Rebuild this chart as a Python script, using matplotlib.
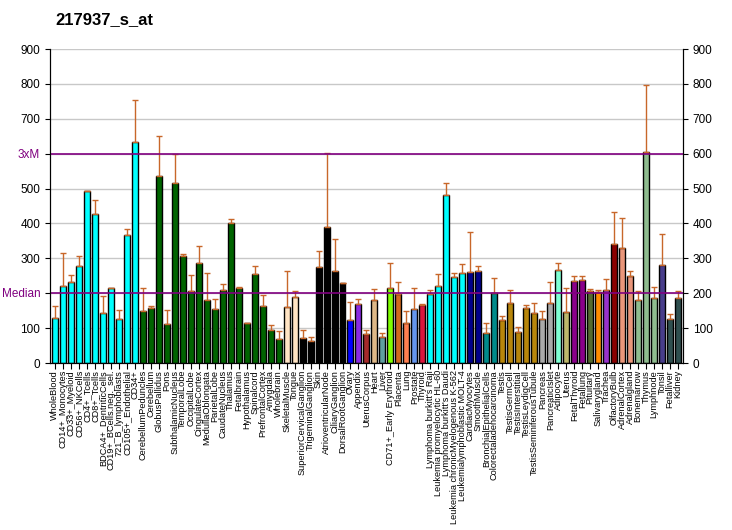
from matplotlib import pyplot as plt
import numpy as np

plt.rcParams["font.family"] = ["Liberation Sans", "DejaVu Sans"]

labels = [
    "WholeBlood", "CD14+_Monocytes", "CD33+_Myeloid", "CD56+_NKCells", "CD4+_Tcells",
    "CD8+_Tcells", "BDCA4+_DentriticCells", "CD19+_BCells.neg._sel.", "721_B_lymphoblasts",
    "CD105+_Endothelial", "CD34+", "CerebellumPeduncles", "Cerebellum", "GlobusPallidus",
    "Pons", "SubthalamicNucleus", "TemporalLobe", "OccipitalLobe", "CingulateCortex",
    "MedullaOblongata", "ParietalLobe", "CaudateNucleus", "Thalamus", "Fetalbrain",
    "Hypothalamus", "Spinalcord", "PrefrontalCortex", "Amygdala", "Wholebrain",
    "SkeletalMuscle", "Tongue", "SuperiorCervicalGanglion", "TrigeminalGanglion", "Skin",
    "AtrioventricularNode", "CiliaryGanglion", "DorsalRootGanglion", "Ovary", "Appendix",
    "UterusCorpus", "Heart", "Liver", "CD71+_Early Erythroid", "Placenta", "Lung",
    "Prostate", "Thyroid", "Lymphoma burkitt's Raji", "Leukemia promyelocytic HL-60",
    "Lymphoma burkitt's Daudi", "Leukemia chronicMyelogenous K-562",
    "Leukemialymphoblastic MOLT-4", "CardiacMyocytes", "SmoothMuscle",
    "BronchialEpithelialCells", "Colorectaladenocarcinoma", "Testis", "TestisGermCell",
    "TestisInterstitial", "TestisLeydigCell", "TestisSeminiferousTubule", "Pancreas",
    "PancreaticIslet", "Adipocyte", "Uterus", "FetalThyroid", "Fetallung", "Pituitary",
    "Salivarygland", "Trachea", "OlfactoryBulb", "AdrenalCortex", "Adrenalgland",
    "Bonemarrow", "Thymus", "Lymphnode", "Tonsil", "Fetalliver", "Kidney",
]

values = [
    129, 221, 233, 278, 494, 428, 144, 215, 126, 367, 634,
    149, 158, 537, 113, 517, 307, 207, 287, 181, 155, 210, 402, 215, 115, 256, 164, 95, 69,
    161, 189,
    72, 63, 274, 390, 264, 228,
    123, 169, 83, 181, 75, 215, 198, 115, 155, 167,
    198, 221, 482, 247, 258,
    261, 264, 86, 201,
    123, 172, 89, 158, 144,
    126, 172, 267, 146, 235, 238, 207, 204, 210, 342, 330, 250,
    181, 606, 187, 281, 126, 187,
]

err_top = [
    163, 316, 253, 307, 494, 468, 192, 215, 151, 385, 755,
    215, 164, 650, 152, 598, 313, 253, 336, 258, 184, 227, 413, 218, 115, 278, 195, 109, 92,
    264, 207,
    95, 75, 322, 603, 356, 230,
    175, 184, 95, 212, 86, 287, 232, 148, 215, 169,
    210, 256, 517, 258, 284,
    376, 278, 115, 244,
    135, 210, 103, 167, 172,
    148, 233, 287, 215, 250, 250, 212, 210, 241, 433, 416, 264,
    207, 796, 218, 370, 141, 207,
]

colors = (
    ["cyan"] * 11 + ["darkgreen"] * 18 + ["bisque"] * 2 + ["black"] * 6
    + ["blue", "blueviolet", "brown", "burlywood", "cadetblue", "chartreuse",
       "chocolate", "coral", "cornflowerblue", "crimson"]
    + ["cyan"] * 5 + ["darkblue"] * 2 + ["darkcyan"] * 2 + ["darkgoldenrod"] * 5
    + ["darkgray"] * 2 + ["aquamarine", "darkkhaki"] + ["darkmagenta"] * 2
    + ["darkolivegreen", "darkorange", "darkorchid", "darkred"] + ["darksalmon"] * 2
    + ["darkseagreen"] * 3 + ["darkslateblue"] + ["darkslategray"] * 2
)

median = 201
title = "217937_s_at"

fig = plt.figure(figsize=(7.32, 5.30), dpi=100)
ax = fig.add_axes([0.0683, 0.315, 0.8647, 0.5925])

x = np.arange(len(values))
vals = np.array(values)
errs = np.array(err_top) - vals

for yv in range(100, 1000, 100):
    ax.axhline(yv, color="#c8c8c8", lw=1, zorder=0)

ax.bar(x, vals, width=0.75, color=colors, edgecolor="black", linewidth=1, zorder=2)
ax.errorbar(x, vals, yerr=[np.zeros_like(errs), errs], fmt="none",
            ecolor="#c8672a", elinewidth=1, capsize=2.5, capthick=1, zorder=3)

ax.axhline(median, color="purple", lw=1.2, zorder=4)
ax.axhline(3 * 200, color="purple", lw=1.2, zorder=4)

ax.set_xlim(-0.6, len(values) - 0.4)
ax.set_ylim(0, 900)

left_ticks = [0, 100, median, 300, 400, 500, 600, 700, 800, 900]
left_labels = ["0", "100", "Median", "300", "400", "500", "3xM", "700", "800", "900"]
ax.set_yticks(left_ticks)
ax.set_yticklabels(left_labels, fontsize=8.5)
for lab in ax.get_yticklabels():
    if lab.get_text() in ("Median", "3xM"):
        lab.set_color("purple")

ax2 = ax.twinx()
ax2.set_ylim(0, 900)
ax2.set_yticks(range(0, 1000, 100))
ax2.tick_params(labelsize=8.5)

ax.set_xticks(x)
ax.set_xticklabels(labels, rotation=90, fontsize=6.6)
ax.tick_params(axis="x", length=4, pad=1)

for a in (ax, ax2):
    a.spines["top"].set_visible(False)

fig.text(0.075, 0.955, title, fontsize=12, fontweight="bold")

fig.savefig("out.png", dpi=100)
